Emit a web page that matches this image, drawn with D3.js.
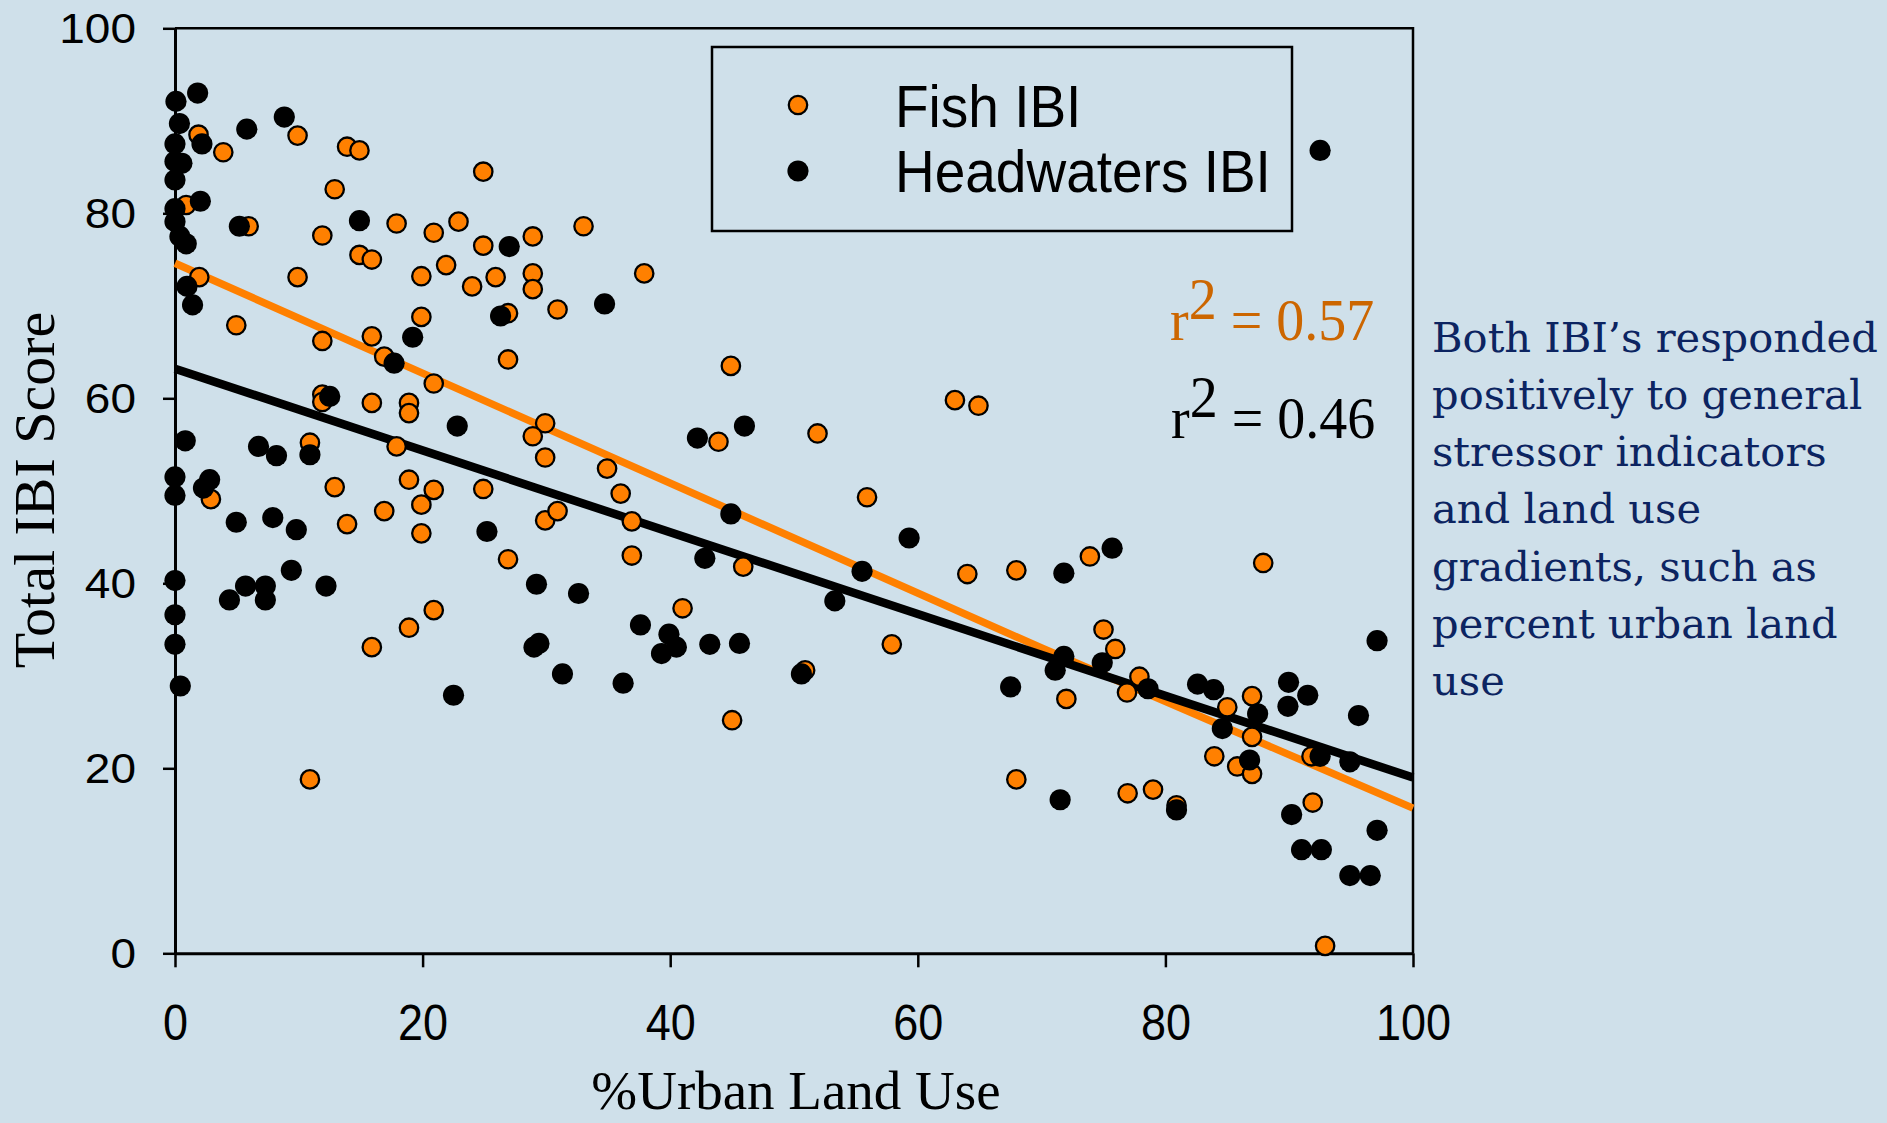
<!DOCTYPE html>
<html>
<head>
<meta charset="utf-8">
<script src="https://cdnjs.cloudflare.com/ajax/libs/d3/7.8.5/d3.min.js"></script>
<style>
  body { margin: 0; background: #cfe0ea; }
  svg { display: block; }
</style>
</head>
<body>
<div id="visualization_container"></div>
<script>
var width = 1887;
var height = 1123;

// Fish IBI points [% urban, score]
var fishIBI = [
  [1.9,88.5],[3.9,86.6],[9.9,88.4],[13.9,87.2],[14.9,86.8],[24.9,84.5],[12.9,82.6],[0.9,80.9],
  [5.95,78.6],[11.9,77.6],[17.9,78.9],[20.9,77.9],[22.9,79.1],[24.9,76.5],[28.9,77.5],[33.0,78.6],
  [14.9,75.5],[15.9,75.0],[21.9,74.4],[1.96,73.1],[9.9,73.1],[19.9,73.2],[24.0,72.1],[25.9,73.1],
  [28.9,73.5],[28.9,71.8],[26.9,69.2],[30.9,69.6],[4.95,67.9],[19.9,68.8],[11.9,66.2],[15.9,66.7],
  [16.9,64.5],[26.9,64.2],[20.9,61.6],[11.9,60.4],[11.9,59.6],[15.9,59.5],[18.9,59.5],[18.9,58.4],
  [29.9,57.3],[28.9,55.9],[29.9,53.6],[17.9,54.8],[10.9,55.2],[18.9,51.2],[20.9,50.1],[24.9,50.2],
  [12.9,50.4],[2.9,49.1],[13.9,46.4],[16.9,47.8],[19.9,48.5],[19.9,45.4],[29.9,46.8],[30.9,47.8],
  [26.9,42.6],[20.9,37.1],[18.9,35.2],[15.9,33.1],[10.9,18.8],
  [37.9,73.5],[44.9,63.5],[43.9,55.3],[51.9,56.2],[63.0,59.8],[64.9,59.2],[34.9,52.4],[36.0,49.7],
  [55.9,49.3],[36.9,46.7],[36.9,43.0],[45.9,41.8],[41.0,37.3],[50.9,30.6],[57.9,33.4],[45.0,25.2],
  [64.0,41.0],
  [67.96,41.4],[73.9,42.9],[87.9,42.2],[75.0,35.0],[75.95,32.9],[72.0,27.5],[77.9,29.9],[76.9,28.2],
  [87.0,27.8],[85.0,26.6],[87.0,23.4],[83.95,21.3],[85.8,20.2],[87.0,19.4],[91.8,21.3],[67.96,18.8],
  [76.95,17.3],[79.0,17.7],[80.9,16.0],[91.9,16.3],[92.9,0.8]
];

// Headwaters IBI points [% urban, score]
var headwatersIBI = [
  [0.08,92.1],[1.83,93.0],[0.36,89.7],[0.0,87.5],[2.18,87.5],[0.0,85.6],[0.56,85.4],[0.0,83.6],
  [5.8,89.1],[8.83,90.4],[2.05,81.3],[0.0,80.5],[0.0,79.1],[0.4,77.5],[0.91,76.7],[5.2,78.6],
  [14.9,79.2],[27.0,76.4],[0.97,72.1],[1.42,70.1],[19.2,66.6],[17.7,63.8],[12.5,60.2],[22.8,57.0],
  [0.83,55.4],[6.75,54.8],[8.2,53.8],[10.9,53.9],[0.0,51.5],[2.8,51.2],[2.3,50.3],[0.0,49.5],
  [26.3,68.9],
  [4.95,46.6],[7.9,47.1],[9.8,45.8],[25.2,45.6],[29.2,39.9],[32.6,38.9],[0.0,40.3],[5.7,39.7],
  [7.3,39.7],[7.3,38.2],[4.4,38.2],[9.4,41.4],[12.2,39.7],[29.0,33.1],[29.4,33.5],[31.3,30.2],
  [22.5,27.9],[0.0,36.6],[0.0,33.4],[0.43,28.9],
  [34.7,70.2],[42.2,55.7],[46.0,57.0],[44.9,47.5],[42.8,42.7],[59.3,44.9],[55.5,41.3],[53.3,38.1],
  [37.6,35.5],[39.9,34.5],[40.5,33.1],[39.3,32.4],[43.2,33.4],[45.6,33.5],[36.2,29.2],[50.6,30.2],
  [71.8,41.1],[75.7,43.8],[97.1,33.8],[71.8,32.1],[71.1,30.6],[74.9,31.4],[67.5,28.8],[78.6,28.6],
  [82.6,29.1],[83.9,28.5],[87.45,25.9],[84.6,24.3],[89.95,29.3],[91.5,27.9],[89.9,26.7],[95.6,25.7],
  [86.8,20.9],[92.5,21.3],[94.9,20.7],[71.5,16.6],[80.9,15.5],[90.2,15.0],[97.1,13.3],[91.0,11.2],
  [92.6,11.2],[94.9,8.4],[96.55,8.4],[92.5,86.8]
];

// fitted lines as drawn
var fishFit = [[0,74.6],[70,33.0],[100,15.7]];
var headwatersFit = [[0,63.2],[100,19.0]];

var xTicks = [0, 20, 40, 60, 80, 100];
var yTicks = [0, 20, 40, 60, 80, 100];

var legendLabels = ["Fish IBI", "Headwaters IBI"];
var r2Values = ["0.57", "0.46"];
var noteLines = [
  "Both IBI\u2019s responded",
  "positively to general",
  "stressor indicators",
  "and land use",
  "gradients, such as",
  "percent urban land",
  "use"
];

var orange = "#ff8000";
var bg = "#cfe0ea";

var margin = {top: 28.3, right: 474, bottom: 169.7, left: 175};

var svg = d3.select("#visualization_container")
  .append("svg")
  .attr("width", width)
  .attr("height", height);

svg.append("rect")
  .attr("width", width)
  .attr("height", height)
  .attr("fill", bg);

var x = d3.scaleLinear()
  .domain([0, 100])
  .range([margin.left, width - margin.right]);

var y = d3.scaleLinear()
  .domain([0, 100])
  .range([height - margin.bottom, margin.top]);

// frame top + right
svg.append("path")
  .attr("d", "M" + x(0) + "," + y(100) + "H" + x(100) + "V" + y(0))
  .attr("fill", "none")
  .attr("stroke", "#000")
  .attr("stroke-width", 2.5);

var xAxis = svg.append("g")
  .attr("transform", "translate(0," + y(0) + ")")
  .call(d3.axisBottom(x).tickValues(xTicks).tickSize(14).tickSizeOuter(0).tickFormat(d3.format("d")));

xAxis.select(".domain").attr("stroke-width", 3);
xAxis.selectAll(".tick line").attr("stroke-width", 2.5);
xAxis.selectAll(".tick text")
  .attr("font-family", "Liberation Sans, Arial, sans-serif")
  .attr("font-size", 45)
  .attr("fill", "#000")
  .attr("dy", 0)
  .attr("y", 87 / 1.11)
  .attr("transform", "scale(1,1.11)");

var yAxis = svg.append("g")
  .attr("transform", "translate(" + x(0) + ",0)")
  .call(d3.axisLeft(y).tickValues(yTicks).tickSize(12).tickSizeOuter(0).tickPadding(27).tickFormat(d3.format("d")));

yAxis.select(".domain").attr("stroke-width", 3);
yAxis.selectAll(".tick line").attr("stroke-width", 2.5);
yAxis.selectAll(".tick text")
  .attr("font-family", "Liberation Sans, Arial, sans-serif")
  .attr("font-size", 46)
  .attr("fill", "#000")
  .attr("transform", "scale(1,0.94)");

// axis titles
svg.append("text")
  .attr("transform", "translate(54,490) rotate(-90)")
  .attr("text-anchor", "middle")
  .attr("font-family", "Liberation Serif, Times New Roman, serif")
  .attr("font-size", 58)
  .text("Total IBI Score");

svg.append("text")
  .attr("x", 796)
  .attr("y", 1109)
  .attr("text-anchor", "middle")
  .attr("font-family", "Liberation Serif, Times New Roman, serif")
  .attr("font-size", 55)
  .text("%Urban Land Use");

// fit lines
var line = d3.line()
  .x(d => x(d[0]))
  .y(d => y(d[1]));

svg.append("path")
  .datum(fishFit)
  .attr("d", line)
  .attr("fill", "none")
  .attr("stroke", orange)
  .attr("stroke-width", 7.5);

svg.append("path")
  .datum(headwatersFit)
  .attr("d", line)
  .attr("fill", "none")
  .attr("stroke", "#000")
  .attr("stroke-width", 8.5);

// points
svg.append("g").selectAll("circle")
  .data(fishIBI)
  .enter().append("circle")
  .attr("cx", d => x(d[0]))
  .attr("cy", d => y(d[1]))
  .attr("r", 9.2)
  .attr("fill", orange)
  .attr("stroke", "#000")
  .attr("stroke-width", 2.3);

svg.append("g").selectAll("circle")
  .data(headwatersIBI)
  .enter().append("circle")
  .attr("cx", d => x(d[0]))
  .attr("cy", d => y(d[1]))
  .attr("r", 10.6)
  .attr("fill", "#000");

// legend
var legend = svg.append("g");
legend.append("rect")
  .attr("x", 712)
  .attr("y", 47)
  .attr("width", 580)
  .attr("height", 184)
  .attr("fill", "none")
  .attr("stroke", "#000")
  .attr("stroke-width", 2.5);

legend.selectAll(".legendDot")
  .data(legendLabels)
  .enter().append("circle")
  .attr("class", "legendDot")
  .attr("cx", 798)
  .attr("cy", (d, i) => 105 + i * 66)
  .attr("r", (d, i) => i == 0 ? 9.2 : 10.6)
  .attr("fill", (d, i) => i == 0 ? orange : "#000")
  .attr("stroke", "#000")
  .attr("stroke-width", (d, i) => i == 0 ? 2.3 : 0);

legend.selectAll(".legendText")
  .data(legendLabels)
  .enter().append("text")
  .attr("class", "legendText")
  .attr("transform", (d, i) => "translate(895," + (127 + i * 65) + ") scale(1,1.075)")
  .attr("font-family", "Liberation Sans, Arial, sans-serif")
  .attr("font-size", 55)
  .text(d => d);

// r squared labels
var r2 = svg.selectAll(".r2")
  .data(r2Values)
  .enter().append("text")
  .attr("class", "r2")
  .attr("transform", (d, i) => "translate(" + (1170 + i) + "," + (340 + i * 98.3) + ") scale(1,1.05)")
  .attr("font-family", "Liberation Serif, Times New Roman, serif")
  .attr("font-size", 56)
  .attr("fill", (d, i) => i == 0 ? "#cc6600" : "#000");

r2.append("tspan").text("r");
r2.append("tspan").attr("dy", -20).text("2");
r2.append("tspan").attr("dy", 20).text(d => " = " + d);

// side note, sized so the first line fits its width
var note = svg.append("g")
  .attr("font-family", "DejaVu Serif, Georgia, serif")
  .attr("fill", "#0c2461");

var probe = note.append("text").attr("font-size", 40).text(noteLines[0]);
var fs = 40 * 446 / probe.node().getComputedTextLength();
probe.remove();

note.selectAll("text")
  .data(noteLines)
  .enter().append("text")
  .attr("x", 1432)
  .attr("y", (d, i) => 351.7 + i * 57.2)
  .attr("font-size", fs)
  .text(d => d);
</script>
</body>
</html>
